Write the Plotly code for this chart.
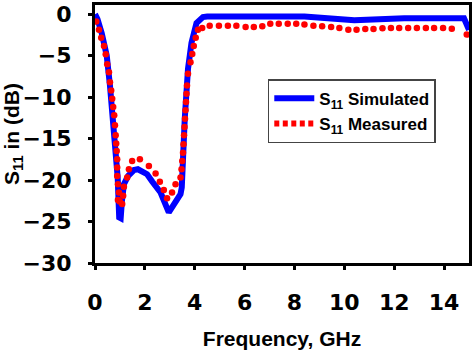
import plotly.graph_objects as go

# Simulated S11 (blue solid line)
sim_freq = [0, 0.1, 0.27, 0.47, 0.6, 0.73, 0.84, 0.91, 0.97, 1.03, 1.08, 1.16, 1.33, 1.56, 1.72,
            2.09, 2.3, 2.63, 2.96, 3.23, 3.43, 3.48, 3.52, 3.6, 3.73, 3.87, 4.07, 4.33, 4.5,
            8.4, 10.4, 12.4, 14.8, 15]
sim_db = [0, -0.6, -2.3, -5, -8.6, -12.6, -16.5, -19.7, -24.5, -24.6, -22.5, -20.5, -19.5, -18.8, -18.7,
          -19.3, -20.2, -21.5, -23.9, -22.5, -21.7, -20.9, -16.8, -12.6, -6.6, -3.45, -1.07, -0.36, -0.3,
          -0.3, -0.75, -0.5, -0.5, -1.9]

# Measured S11 (red dots)
meas_freq = [0.05, 0.16, 0.25, 0.36, 0.43, 0.49, 0.56, 0.6, 0.65, 0.69, 0.73, 0.77,
             0.8, 0.83, 0.85, 0.87, 0.89, 0.89, 0.89, 0.92, 0.96, 0.92, 0.99, 1.09, 1.13, 1.16,
             1.29, 1.36, 1.49, 1.8, 2.16, 2.43, 2.6, 2.76, 2.89, 3.09, 3.23, 3.43,
             3.47, 3.5, 3.53, 3.55, 3.57, 3.59, 3.61, 3.63, 3.65, 3.67, 3.69, 3.73, 3.83, 3.9,
             3.96, 4.04, 4.13, 4.3, 4.6, 4.97, 5.33, 5.67, 6.04, 6.37, 6.71, 7.03, 7.37, 7.73,
             8.07, 8.4, 8.76, 9.11, 9.47, 9.8, 10.16, 10.49, 10.84, 11.17, 11.53, 11.87, 12.2,
             12.56, 12.91, 13.27, 13.6, 13.96, 14.31, 14.91]
meas_db = [-0.9, -1.87, -2.86, -3.85, -4.85, -6.04, -7.02, -8.21, -9.2, -10.2, -11.2, -12.2,
           -13.4, -14.6, -15.6, -16.5, -17.5, -18.5, -19.5, -20.5, -21.5, -22.4, -22.6, -22.9, -21.9, -20.8,
           -19.7, -18.7, -17.7, -17.5, -18.3, -19.2, -20.2, -21.2, -22.2, -21.5, -20.5, -19.7,
           -18.7, -17.7, -16.7, -15.7, -14.6, -13.6, -12.6, -11.6, -10.6, -9.6, -8.6, -7.2, -5.8, -4.8,
           -3.85, -2.86, -1.87, -1.67, -1.39, -1.39, -1.39, -1.39, -1.55, -1.55, -1.47, -1.15, -1.15, -1.15,
           -1.15, -1.25, -1.39, -1.47, -1.55, -1.67, -1.87, -1.87, -1.79, -1.79, -1.71, -1.67, -1.67,
           -1.67, -1.67, -1.67, -1.67, -1.67, -1.75, -2.46]

x_ticks = [0, 2, 4, 6, 8, 10, 12, 14]
y_ticks = [0, -5, -10, -15, -20, -25, -30]

BLUE = "#0000FF"
RED = "#FF0000"

fig = go.Figure()
fig.add_trace(go.Scatter(x=sim_freq, y=sim_db, mode="lines",
                         line=dict(color=BLUE, width=6),
                         name="S<sub>11</sub> Simulated"))
fig.add_trace(go.Scatter(x=meas_freq, y=meas_db, mode="markers",
                         marker=dict(color=RED, size=6.5, line=dict(width=0)),
                         showlegend=False, name="S<sub>11</sub> Measured"))
# legend-only entry for the dotted measured series
fig.add_trace(go.Scatter(x=[None], y=[None], mode="lines",
                         line=dict(color=RED, width=6, dash="5px,3.5px"),
                         name="S<sub>11</sub> Measured"))

tick_font = dict(family="DejaVu Sans", size=22, color="black", weight="bold")
title_font = dict(family="Liberation Sans, Arial", size=21, color="black", weight="bold")

fig.update_layout(
    width=474, height=350,
    margin=dict(l=95, r=4, t=2, b=87),
    paper_bgcolor="white", plot_bgcolor="white",
    showlegend=True,
    legend=dict(x=0.462, y=0.712, xanchor="left", yanchor="top",
                bgcolor="white", bordercolor="#444444", borderwidth=1.5,
                font=dict(family="Liberation Sans, Arial", size=17, color="black", weight="bold"),
                itemwidth=40, tracegroupgap=0),
    xaxis=dict(range=[0, 15], tickvals=x_ticks, ticks="outside", ticklen=4, tickwidth=3,
               tickcolor="black", showline=True, linecolor="black", linewidth=3, mirror=True,
               showgrid=False, zeroline=False, tickfont=tick_font, ticklabelstandoff=14,
               title=dict(text="Frequency, GHz", font=title_font, standoff=18)),
    yaxis=dict(range=[-30, 1.1], tickvals=y_ticks, ticks="outside", ticklen=4, tickwidth=3,
               tickcolor="black", showline=True, linecolor="black", linewidth=3, mirror=True,
               showgrid=False, zeroline=False, tickfont=tick_font, ticklabelstandoff=12,
               title=dict(text="S<sub>11</sub> in (dB)", font=title_font, standoff=6)),
)

fig.write_html("out.html")
